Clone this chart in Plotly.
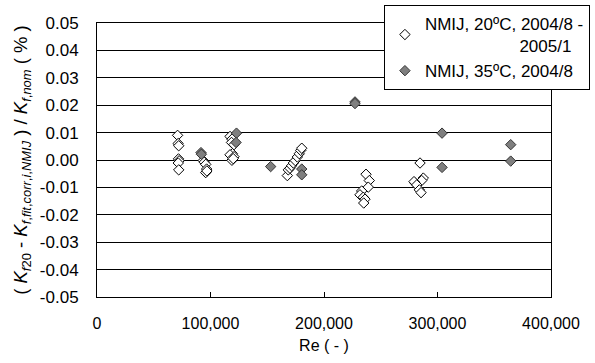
import plotly.graph_objects as go

# Series 1: NMIJ, 20ºC, 2004/8 - 2005/1 (hollow diamonds)
re_20 = [71000, 71500, 72000, 71800, 72300, 71600, 72000,
         93600, 94500, 95800, 96600, 95800, 96800,
         117200, 118900, 118500, 120700, 119300, 117200, 120700, 118900, 120000,
         167700, 168500, 170000, 171500, 173000, 174700, 176500, 178200, 179500, 180400,
         237000, 239900, 239000, 233200, 231700, 234600, 236100, 235000,
         284600, 287500, 286100, 280200, 279300, 281700, 284000, 285500]
dev_20 = [0.0090, 0.0060, 0.0052, 0.0004, -0.0003, -0.0011, -0.0036,
          -0.0002, -0.0008, -0.0016, -0.0033, -0.0046, -0.0040,
          0.0086, 0.0076, 0.0064, 0.0056, 0.0023, 0.0019, 0.0012, -0.0001, 0.0005,
          -0.0057, -0.0036, -0.0030, -0.0021, -0.0011, -0.0002, 0.0011, 0.0023, 0.0035, 0.0043,
          -0.0052, -0.0075, -0.0099, -0.0113, -0.0127, -0.0136, -0.0143, -0.0157,
          -0.0011, -0.0066, -0.0075, -0.0084, -0.0079, -0.0091, -0.0109, -0.0119]

# Series 2: NMIJ, 35ºC, 2004/8 (filled grey diamonds)
re_35 = [91600, 92000, 122900, 122500, 153000, 180400, 180400,
         227300, 227300, 304000, 304000, 364500, 364500]
dev_35 = [0.0027, 0.0021, 0.0098, 0.0064, -0.0024, -0.0033, -0.0054,
          0.0212, 0.0206, 0.0098, -0.0027, 0.0056, -0.0004]

x_ticks = [0, 100000, 200000, 300000, 400000]
x_ticklabels = ["0", "100,000", "200,000", "300,000", "400,000"]
y_ticks = [-0.05, -0.04, -0.03, -0.02, -0.01, 0.0, 0.01, 0.02, 0.03, 0.04, 0.05]
y_ticklabels = ["-0.05", "-0.04", "-0.03", "-0.02", "-0.01", "0.00",
                "0.01", "0.02", "0.03", "0.04", "0.05"]

FONT = "Liberation Sans, Arial, sans-serif"
nb = "\u00a0"

fig = go.Figure()
fig.add_trace(go.Scatter(
    x=re_20, y=dev_20, mode="markers",
    name="NMIJ, 20ºC, 2004/8 -<br>" + nb * 20 + "2005/1",
    marker=dict(symbol="diamond", size=8, color="white",
                line=dict(color="black", width=1)),
    cliponaxis=False,
))
fig.add_trace(go.Scatter(
    x=re_35, y=dev_35, mode="markers",
    name="NMIJ, 35ºC, 2004/8",
    marker=dict(symbol="diamond", size=8, color="#7f7f7f",
                line=dict(color="#333333", width=1)),
    cliponaxis=False,
))

ytitle = ("( <i>K</i><sub><i>f</i>20</sub> - "
          "<i>K</i><sub><i>f</i>,<i>fit</i>,<i>corr</i>,<i>i</i>,<i>NMIJ</i></sub> ) / "
          "<i>K</i><sub><i>f</i>,<i>nom</i></sub> ( % )")

fig.update_layout(
    width=595, height=363,
    margin=dict(l=97, r=44, t=23, b=66, autoexpand=False),
    paper_bgcolor="white", plot_bgcolor="white",
    font=dict(family=FONT, size=16, color="black"),
    showlegend=True,
    legend=dict(x=0.632, y=1.066, xanchor="left", yanchor="top",
                bgcolor="white", bordercolor="black", borderwidth=1,
                font=dict(size=17), itemwidth=30, tracegroupgap=0),
    xaxis=dict(range=[0, 400000], tickvals=x_ticks, ticktext=x_ticklabels,
               showgrid=False, zeroline=False, showline=True, linecolor="black",
               linewidth=1, mirror=True, ticks="inside", ticklen=5, tickcolor="black",
               ticklabelstandoff=12, automargin=False,
               title=dict(text="Re ( - )", font=dict(size=16), standoff=8)),
    yaxis=dict(range=[-0.05, 0.05], tickvals=y_ticks, ticktext=y_ticklabels,
               showgrid=True, gridcolor="black", gridwidth=1, zeroline=False,
               showline=True, linecolor="black", linewidth=1, mirror=True,
               ticks="", ticklabelstandoff=14, tickfont=dict(size=17), automargin=False,
               title=dict(text=ytitle, font=dict(size=18.5), standoff=7)),
)

fig.write_html("out.html")
